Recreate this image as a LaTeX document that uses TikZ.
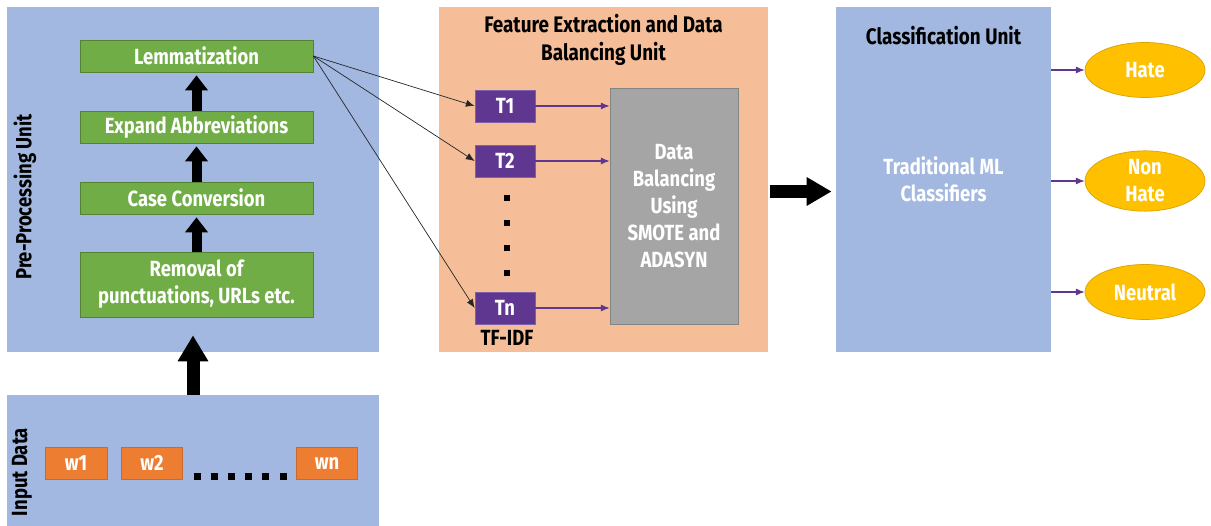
\documentclass[tikz,border=0pt]{standalone}
\usepackage{fontspec}
\setmainfont{Fira Sans}[FakeStretch=0.84]
\usetikzlibrary{arrows.meta,shapes.geometric}
\definecolor{unitblue}{HTML}{A2B8E0}
\definecolor{unitpeach}{HTML}{F5BE98}
\definecolor{stepgreen}{HTML}{70AD47}
\definecolor{wordorange}{HTML}{ED7D31}
\definecolor{tfpurple}{HTML}{5F3791}
\definecolor{balgray}{HTML}{A5A5A5}
\definecolor{clsyellow}{HTML}{FFC000}

\begin{document}
\begin{tikzpicture}[font=\fontsize{12.5}{15.4}\selectfont\bfseries,
  unit/.style={fill=#1, draw=none, inner sep=0pt},
  stepbox/.style={fill=stepgreen, draw=stepgreen!75!black, text=white, minimum width=4.66cm, minimum height=0.64cm, align=center, inner sep=0pt},
  wordbox/.style={fill=wordorange, draw=wordorange!85!black, text=white, minimum width=1.22cm, minimum height=0.64cm, inner sep=0pt},
  tfbox/.style={fill=tfpurple, draw=tfpurple!80!white, text=white, minimum width=1.2cm, minimum height=0.64cm, inner sep=0pt},
  outcome/.style={ellipse, fill=clsyellow, draw=clsyellow!85!black, text=white, minimum width=2.4cm, minimum height=1.1cm, align=center, inner sep=0pt},
  blockarrow/.style={line width=0.2cm, -{Triangle[length=0.3cm, width=0.44cm]}},
  thinarrow/.style={-{Latex[length=5pt, width=4pt]}, black!85},
  purplearrow/.style={-{Latex[length=5pt, width=4pt]}, tfpurple, line width=0.6pt},
  unittitle/.style={font=\fontsize{12.8}{15.6}\selectfont\bfseries, align=center}]
  \useasboundingbox (0,0) rectangle (24.22,-10.52);
  % units
  \node[unit=unitblue, minimum width=7.44cm, minimum height=6.9cm] (pre) at (3.86,-3.59) {};
  \node[unit=unitblue, minimum width=7.44cm, minimum height=2.62cm] (inp) at (3.86,-9.21) {};
  \node[unit=unitpeach, minimum width=6.58cm, minimum height=6.9cm] (feat) at (12.07,-3.59) {};
  \node[unit=unitblue, minimum width=4.3cm, minimum height=6.9cm] (cls) at (18.87,-3.59) {};
  \node[rotate=90] (prelabel) at (0.5,-3.94) {Pre-Processing Unit};
  \node[rotate=90] (inplabel) at (0.44,-9.44) {Input Data};
  \node[unittitle] (feattitle) at (12.07,-0.8) {Feature Extraction and Data\\Balancing Unit};
  \node[unittitle] (clstitle) at (18.87,-0.72) {Classification Unit};
  \node[text=white, align=center] (clsbody) at (18.87,-3.58) {Traditional ML\\Classifiers};
  % pre-processing steps
  \node[stepbox] (lemma) at (3.93,-1.12) {Lemmatization};
  \node[stepbox] (expand) at (3.93,-2.54) {Expand Abbreviations};
  \node[stepbox] (caseconv) at (3.93,-3.96) {Case Conversion};
  \node[stepbox, minimum height=1.3cm] (removal) at (3.93,-5.69) {Removal of\\punctuations, URLs etc.};
  \draw[blockarrow, shorten >=0.06cm] (expand) -- (lemma);
  \draw[blockarrow, shorten >=0.06cm] (caseconv) -- (expand);
  \draw[blockarrow, shorten >=0.06cm] (removal) -- (caseconv);
  \draw[blockarrow, line width=0.26cm, -{Triangle[length=0.52cm, width=0.58cm]}, shorten >=0.36cm] (inp.north) -- (inp.north |- removal.south);
  % input words
  \node[wordbox, minimum width=1.24cm] (wone) at (1.52,-9.26) {w1};
  \node[wordbox] (wtwo) at (3.04,-9.26) {w2};
  \node[wordbox] (wn) at (6.54,-9.26) {wn};
  \foreach \i in {0,...,5}
    \fill (3.94+0.344*\i,-9.53) +(-0.07,-0.07) rectangle +(0.07,0.07);
  % tf-idf
  \node[tfbox] (tone) at (10.1,-2.12) {T1};
  \node[tfbox] (ttwo) at (10.1,-3.22) {T2};
  \node[tfbox] (tn) at (10.1,-6.16) {Tn};
  \foreach \y in {-3.96,-4.46,-4.96,-5.46}
    \fill (10.14,\y) +(-0.06,-0.06) rectangle +(0.06,0.06);
  \node (tfidf) at (10.14,-6.76) {TF-IDF};
  \node[fill=balgray, draw=balgray!80!black, text=white, minimum width=2.56cm, minimum height=4.72cm, align=center] (bal) at (13.48,-4.12) {Data\\Balancing\\Using\\SMOTE and\\ADASYN};
  \draw[thinarrow] (lemma.east) -- (tone.west);
  \draw[thinarrow] (lemma.east) -- (ttwo.west);
  \draw[thinarrow] (lemma.east) -- (tn.west);
  \foreach \t in {tone,ttwo,tn}
    \draw[purplearrow] (\t.east) -- (bal.west |- \t.east);
  \draw[blockarrow, line width=0.26cm, -{Triangle[length=0.5cm, width=0.54cm]}, shorten <=0.04cm, shorten >=0.08cm] ([yshift=-0.24cm]feat.east) -- ([yshift=-0.24cm]cls.west);
  % outcomes
  \node[outcome] (hate) at (22.9,-1.4) {Hate};
  \node[outcome] (nonhate) at (22.9,-3.62) {Non\\Hate};
  \node[outcome] (neutral) at (22.9,-5.84) {Neutral};
  \foreach \c in {hate,nonhate,neutral}
    \draw[purplearrow] (cls.east |- \c) -- (\c.west);
\end{tikzpicture}
\end{document}
